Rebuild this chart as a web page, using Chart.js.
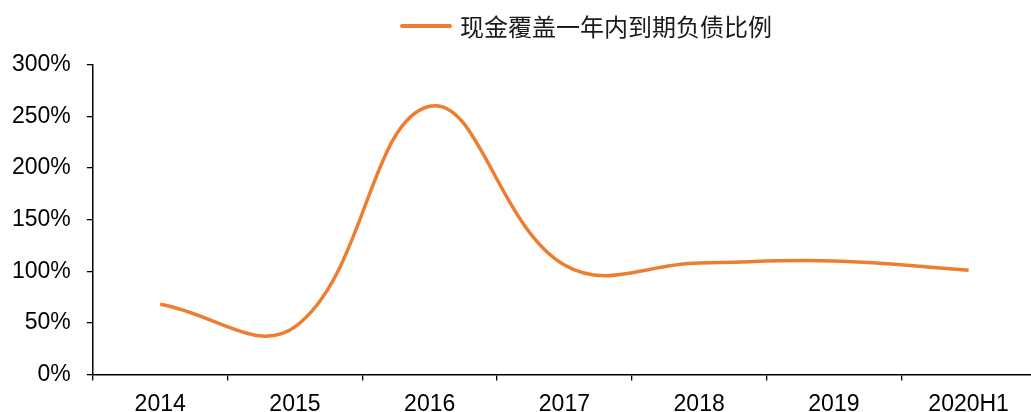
<!DOCTYPE html>
<html>
<head>
<meta charset="utf-8">
<script src="https://cdn.jsdelivr.net/npm/chart.js@4.4.1/dist/chart.umd.min.js"></script>
<style>
  html, body { margin: 0; padding: 0; background: #fff; overflow: hidden; }
  #wrap { position: relative; width: 1031px; height: 412px; overflow: hidden; }
  #ratioChart { position: absolute; left: -4px; top: 0; }
  #legend {
    position: absolute; left: 400px; top: 8px;
    display: flex; align-items: center;
    font-family: "Noto Sans CJK SC", sans-serif; font-size: 24px; color: #1a1a1a;
  }
  #legend .swatch { width: 52px; height: 4px; margin-right: 8px; border-radius: 2px; }
</style>
</head>
<body>
<div id="wrap">
  <canvas id="ratioChart" width="1041" height="432"></canvas>
  <div id="legend"></div>
</div>
<script>
// 数据
const categories = ["2014", "2015", "2016", "2017", "2018", "2019", "2020H1"];
const coverRatio = [68, 46, 260, 106, 108, 110, 101];
const yTicks = [0, 50, 100, 150, 200, 250, 300];
const seriesName = "现金覆盖一年内到期负债比例";
const lineColor = "#ED7D31";

Chart.defaults.font.family = "'Liberation Sans', Arial, sans-serif";
Chart.defaults.color = "#000";

const ctx = document.getElementById("ratioChart").getContext("2d");
const chart = new Chart(ctx, {
  type: "line",
  data: {
    labels: categories,
    datasets: [
      {
        label: seriesName,
        data: coverRatio,
        borderColor: lineColor,
        backgroundColor: lineColor,
        borderWidth: 3.5,
        pointRadius: 0,
        tension: 0.4,
        fill: false,
      },
    ],
  },
  options: {
    responsive: false,
    animation: false,
    layout: { padding: { top: 65, left: 0, right: 1, bottom: 4 } },
    scales: {
      x: {
        offset: true,
        grid: { offset: true, drawOnChartArea: false, drawTicks: true, tickLength: 6, color: "#000", lineWidth: 1.3 },
        border: { color: "#000", width: 1.5 },
        ticks: { font: { size: 23 }, padding: 10, maxRotation: 0 },
      },
      y: {
        min: yTicks[0],
        max: yTicks[yTicks.length - 1],
        afterBuildTicks: (axis) => { axis.ticks = yTicks.map((v) => ({ value: v })); },
        grid: { drawOnChartArea: false, drawTicks: true, tickLength: 6, color: "#000", lineWidth: 1.3 },
        border: { color: "#000", width: 1.5 },
        ticks: { font: { size: 23 }, padding: 16, callback: (v) => v + "%" },
      },
    },
    plugins: {
      legend: { display: false },
      tooltip: { enabled: false },
    },
  },
});

// 图例 (HTML)
const legendEl = document.getElementById("legend");
chart.data.datasets.forEach((ds) => {
  legendEl.innerHTML += `<span class="swatch" style="background:${ds.borderColor}"></span><span>${ds.label}</span>`;
});
</script>
</body>
</html>
